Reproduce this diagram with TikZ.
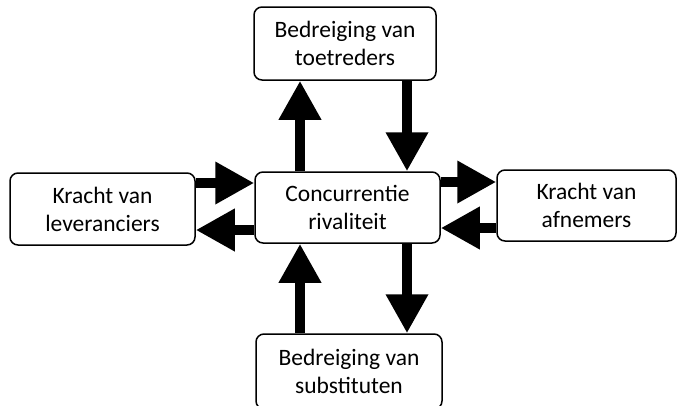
\documentclass[tikz,border=0pt]{standalone}
\usepackage{fontspec}
\setmainfont{Carlito}
\usepackage{tikz}
\usetikzlibrary{arrows.meta}

\begin{document}
\begin{tikzpicture}[x=1pt, y=-1pt,
  force/.style={draw, line width=1.5pt, rounded corners=8pt, align=center,
    inner sep=0pt, font=\fontsize{23.5}{28}\selectfont},
  fat/.style={line width=10pt, -{Triangle[width=40pt,length=39pt]}}]
\useasboundingbox (0,0) rectangle (677,405);
% the five forces, pixel coordinates
\node[force, minimum width=182pt, minimum height=73pt] (t) at (345,43.5)
  {Bedreiging van\\toetreders};
\node[force, minimum width=185pt, minimum height=71pt] (c) at (347.5,207.5)
  {Concurrentie\\rivaliteit};
\node[force, minimum width=185pt, minimum height=72pt] (l) at (102.5,209)
  {Kracht van\\leveranciers};
\node[force, minimum width=179pt, minimum height=71pt] (r) at (586.5,205.5)
  {Kracht van\\afnemers};
\node[force, minimum width=186pt, minimum height=75pt] (b) at (349,371.5)
  {Bedreiging van\\substituten};
% vertical arrows
\draw[fat] ([xshift=-47.5pt]c.north) -- ([xshift=-47.5pt]c.north |- t.south);
\draw[fat] ([xshift=59.5pt]c.north |- t.south) -- ([xshift=59.5pt]c.north);
\draw[fat] ([xshift=-47.5pt]c.south |- b.north) -- ([xshift=-47.5pt]c.south);
\draw[fat] ([xshift=59.5pt]c.south) -- ([xshift=59.5pt]c.south |- b.north);
% horizontal arrows
\draw[fat] ([yshift=24.5pt]c.west -| l.east) -- ([yshift=24.5pt]c.west);
\draw[fat] ([yshift=-22.5pt]c.west) -- ([yshift=-22.5pt]c.west -| l.east);
\draw[fat] ([yshift=25.5pt]c.east) -- ([yshift=25.5pt]c.east -| r.west);
\draw[fat] ([yshift=-20.5pt]c.east -| r.west) -- ([yshift=-20.5pt]c.east);
\end{tikzpicture}
\end{document}
